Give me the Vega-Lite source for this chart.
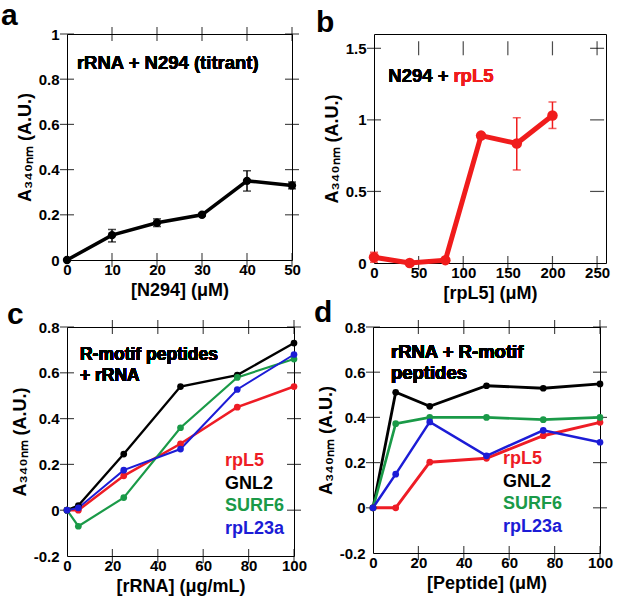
{
  "$schema": "https://vega.github.io/schema/vega-lite/v6.json",
  "padding": {"left": 0, "top": 0, "right": 0, "bottom": 0},
  "background": "white",
  "config": {
    "font": "Liberation Sans",
    "view": {"stroke": "black", "strokeWidth": 1},
    "axis": {
      "grid": false,
      "domain": false,
      "ticks": false,
      "labelFont": "Liberation Sans",
      "labelFontSize": 15,
      "labelFontWeight": "bold",
      "labelColor": "black",
      "labelFlush": false,
      "labelPadding": 2,
      "labelExpr": "replace(format(datum.value, '~g'), '−', '-')",
      "titleFont": "Liberation Sans",
      "titleFontSize": 18,
      "titleFontWeight": "bold",
      "titleColor": "black",
      "titlePadding": 4
    },
    "axisY": {"labelPadding": 8},
    "tick": {"color": "black", "size": 14, "thickness": 1.2, "clip": true},
    "title": {
      "fontSize": 30,
      "fontWeight": "bold",
      "color": "black",
      "anchor": "start",
      "frame": "group",
      "baseline": "alphabetic",
      "offset": -4
    },
    "text": {"font": "Liberation Sans", "fontWeight": "bold", "fontSize": 18.5, "align": "left"}
  },
  "datasets": {
    "n294": [
      {"conc": 0, "a340": 0, "lo": 0, "hi": 0},
      {"conc": 10, "a340": 0.11, "lo": 0.08, "hi": 0.135},
      {"conc": 20, "a340": 0.165, "lo": 0.148, "hi": 0.182},
      {"conc": 30, "a340": 0.2, "lo": 0.194, "hi": 0.206},
      {"conc": 40, "a340": 0.35, "lo": 0.305, "hi": 0.395},
      {"conc": 50, "a340": 0.33, "lo": 0.315, "hi": 0.345}
    ],
    "rpl5": [
      {"conc": 0, "a340": 0.04, "lo": 0.005, "hi": 0.075},
      {"conc": 40, "a340": 0.0, "lo": 0.0, "hi": 0.0},
      {"conc": 80, "a340": 0.02, "lo": 0.02, "hi": 0.02},
      {"conc": 120, "a340": 0.89, "lo": 0.89, "hi": 0.89},
      {"conc": 160, "a340": 0.835, "lo": 0.65, "hi": 1.015},
      {"conc": 200, "a340": 1.03, "lo": 0.94, "hi": 1.125}
    ],
    "rrna": [
      {"series": "rpL5", "x": 0, "y": 0},
      {"series": "rpL5", "x": 5, "y": 0.0},
      {"series": "rpL5", "x": 25, "y": 0.15},
      {"series": "rpL5", "x": 50, "y": 0.29},
      {"series": "rpL5", "x": 75, "y": 0.45},
      {"series": "rpL5", "x": 100, "y": 0.54},
      {"series": "GNL2", "x": 0, "y": 0},
      {"series": "GNL2", "x": 5, "y": 0.02},
      {"series": "GNL2", "x": 25, "y": 0.245},
      {"series": "GNL2", "x": 50, "y": 0.54},
      {"series": "GNL2", "x": 75, "y": 0.59},
      {"series": "GNL2", "x": 100, "y": 0.73},
      {"series": "SURF6", "x": 0, "y": 0},
      {"series": "SURF6", "x": 5, "y": -0.07},
      {"series": "SURF6", "x": 25, "y": 0.055},
      {"series": "SURF6", "x": 50, "y": 0.36},
      {"series": "SURF6", "x": 75, "y": 0.58},
      {"series": "SURF6", "x": 100, "y": 0.66},
      {"series": "rpL23a", "x": 0, "y": 0},
      {"series": "rpL23a", "x": 5, "y": 0.01},
      {"series": "rpL23a", "x": 25, "y": 0.175},
      {"series": "rpL23a", "x": 50, "y": 0.267},
      {"series": "rpL23a", "x": 75, "y": 0.527},
      {"series": "rpL23a", "x": 100, "y": 0.68}
    ],
    "peptide": [
      {"series": "rpL5", "x": 0, "y": 0},
      {"series": "rpL5", "x": 10, "y": 0.0},
      {"series": "rpL5", "x": 25, "y": 0.202},
      {"series": "rpL5", "x": 50, "y": 0.219},
      {"series": "rpL5", "x": 75, "y": 0.319},
      {"series": "rpL5", "x": 100, "y": 0.378},
      {"series": "GNL2", "x": 0, "y": 0},
      {"series": "GNL2", "x": 10, "y": 0.511},
      {"series": "GNL2", "x": 25, "y": 0.449},
      {"series": "GNL2", "x": 50, "y": 0.54},
      {"series": "GNL2", "x": 75, "y": 0.529},
      {"series": "GNL2", "x": 100, "y": 0.548},
      {"series": "SURF6", "x": 0, "y": 0},
      {"series": "SURF6", "x": 10, "y": 0.372},
      {"series": "SURF6", "x": 25, "y": 0.4},
      {"series": "SURF6", "x": 50, "y": 0.4},
      {"series": "SURF6", "x": 75, "y": 0.39},
      {"series": "SURF6", "x": 100, "y": 0.4},
      {"series": "rpL23a", "x": 0, "y": 0},
      {"series": "rpL23a", "x": 10, "y": 0.149},
      {"series": "rpL23a", "x": 25, "y": 0.38},
      {"series": "rpL23a", "x": 50, "y": 0.23},
      {"series": "rpL23a", "x": 75, "y": 0.343},
      {"series": "rpL23a", "x": 100, "y": 0.29}
    ],
    "ticks_x50": [{"v": 10}, {"v": 20}, {"v": 30}, {"v": 40}, {"v": 50}],
    "ticks_y1": [{"v": 0.2}, {"v": 0.4}, {"v": 0.6}, {"v": 0.8}, {"v": 1}],
    "ticks_x250": [{"v": 50}, {"v": 100}, {"v": 150}, {"v": 200}, {"v": 250}],
    "ticks_y15": [{"v": 0.5}, {"v": 1}, {"v": 1.5}],
    "ticks_x100": [{"v": 20}, {"v": 40}, {"v": 60}, {"v": 80}, {"v": 100}],
    "ticks_y08": [{"v": 0}, {"v": 0.2}, {"v": 0.4}, {"v": 0.6}, {"v": 0.8}]
  },
  "resolve": {"scale": {"color": "independent", "strokeWidth": "independent"}, "legend": {"color": "independent"}},
  "spacing": -6,
  "vconcat": [
    {
      "hconcat": [
        {
          "width": 225,
          "height": 226,
          "title": {"text": "a", "dx": -66},
          "data": {"name": "n294"},
          "layer": [
            {
              "data": {"name": "ticks_x50"},
              "mark": {"type": "tick", "orient": "vertical"},
              "encoding": {
                "x": {"field": "v", "type": "quantitative", "scale": {"domain": [0, 50]},
                  "axis": {"values": [0, 10, 20, 30, 40, 50], "title": "[N294] (μM)"}},
                "y": {"datum": 0, "type": "quantitative", "scale": {"domain": [0, 1]},
                  "axis": {"values": [0, 0.2, 0.4, 0.6, 0.8, 1], "title": "A₃₄₀ₙₘ (A.U.)"}}
              }
            },
            {
              "data": {"name": "ticks_x50"},
              "mark": {"type": "tick", "orient": "vertical"},
              "encoding": {
                "x": {"field": "v", "type": "quantitative"},
                "y": {"datum": 1, "type": "quantitative"}
              }
            },
            {
              "data": {"name": "ticks_y1"},
              "mark": {"type": "tick", "orient": "horizontal"},
              "encoding": {
                "y": {"field": "v", "type": "quantitative"},
                "x": {"datum": 0, "type": "quantitative"}
              }
            },
            {
              "data": {"name": "ticks_y1"},
              "mark": {"type": "tick", "orient": "horizontal"},
              "encoding": {
                "y": {"field": "v", "type": "quantitative"},
                "x": {"datum": 50, "type": "quantitative"}
              }
            },
            {
              "mark": {"type": "line", "color": "black", "strokeWidth": 3.5},
              "encoding": {
                "x": {"field": "conc", "type": "quantitative"},
                "y": {"field": "a340", "type": "quantitative"}
              }
            },
            {
              "mark": {"type": "errorbar", "ticks": {"size": 8, "clip": false}, "color": "black", "thickness": 1.5},
              "encoding": {
                "x": {"field": "conc", "type": "quantitative"},
                "y": {"field": "lo", "type": "quantitative", "title": "A₃₄₀ₙₘ (A.U.)"},
                "y2": {"field": "hi"}
              }
            },
            {
              "mark": {"type": "point", "filled": true, "opacity": 1, "color": "black", "size": 70},
              "encoding": {
                "x": {"field": "conc", "type": "quantitative"},
                "y": {"field": "a340", "type": "quantitative"}
              }
            },
            {
              "mark": {"type": "text", "baseline": "middle"},
              "encoding": {
                "text": {"value": "rRNA + N294 (titrant)"},
                "x": {"datum": 2.2, "type": "quantitative"},
                "y": {"datum": 0.87, "type": "quantitative"}
              }
            }
          ]
        },
        {
          "width": 232,
          "height": 229,
          "title": {"text": "b", "dx": -58},
          "data": {"name": "rpl5"},
          "layer": [
            {
              "data": {"name": "ticks_x250"},
              "mark": {"type": "tick", "orient": "vertical"},
              "encoding": {
                "x": {"field": "v", "type": "quantitative", "scale": {"domain": [0, 250]},
                  "axis": {"values": [0, 50, 100, 150, 200, 250], "title": "[rpL5] (μM)"}},
                "y": {"datum": 0, "type": "quantitative", "scale": {"domain": [0, 1.5]},
                  "axis": {"values": [0, 0.5, 1, 1.5], "title": "A₃₄₀ₙₘ (A.U.)"}}
              }
            },
            {
              "data": {"name": "ticks_x250"},
              "mark": {"type": "tick", "orient": "vertical"},
              "encoding": {
                "x": {"field": "v", "type": "quantitative"},
                "y": {"datum": 1.5, "type": "quantitative"}
              }
            },
            {
              "data": {"name": "ticks_y15"},
              "mark": {"type": "tick", "orient": "horizontal"},
              "encoding": {
                "y": {"field": "v", "type": "quantitative"},
                "x": {"datum": 0, "type": "quantitative"}
              }
            },
            {
              "data": {"name": "ticks_y15"},
              "mark": {"type": "tick", "orient": "horizontal"},
              "encoding": {
                "y": {"field": "v", "type": "quantitative"},
                "x": {"datum": 250, "type": "quantitative"}
              }
            },
            {
              "mark": {"type": "line", "color": "#f01c1c", "strokeWidth": 5},
              "encoding": {
                "x": {"field": "conc", "type": "quantitative"},
                "y": {"field": "a340", "type": "quantitative"}
              }
            },
            {
              "mark": {"type": "errorbar", "ticks": {"size": 8, "clip": false}, "color": "#f01c1c", "thickness": 1.5},
              "encoding": {
                "x": {"field": "conc", "type": "quantitative"},
                "y": {"field": "lo", "type": "quantitative", "title": "A₃₄₀ₙₘ (A.U.)"},
                "y2": {"field": "hi"}
              }
            },
            {
              "mark": {"type": "point", "filled": true, "opacity": 1, "color": "#f01c1c", "size": 110},
              "encoding": {
                "x": {"field": "conc", "type": "quantitative"},
                "y": {"field": "a340", "type": "quantitative"}
              }
            },
            {
              "mark": {"type": "text", "baseline": "middle", "color": "black"},
              "encoding": {
                "text": {"value": "N294 +"},
                "x": {"datum": 16, "type": "quantitative"},
                "y": {"datum": 1.31, "type": "quantitative"}
              }
            },
            {
              "mark": {"type": "text", "baseline": "middle", "color": "#f01c1c"},
              "encoding": {
                "text": {"value": "rpL5"},
                "x": {"datum": 89, "type": "quantitative"},
                "y": {"datum": 1.31, "type": "quantitative"}
              }
            }
          ]
        }
      ],
      "spacing": 14
    },
    {
      "hconcat": [
        {
          "width": 227,
          "height": 229,
          "title": {"text": "c", "dx": -60, "offset": -10},
          "data": {"name": "rrna"},
          "layer": [
            {
              "data": {"name": "ticks_x100"},
              "mark": {"type": "tick", "orient": "vertical"},
              "encoding": {
                "x": {"field": "v", "type": "quantitative", "scale": {"domain": [0, 100]},
                  "axis": {"values": [0, 20, 40, 60, 80, 100], "title": "[rRNA] (μg/mL)"}},
                "y": {"datum": -0.2, "type": "quantitative", "scale": {"domain": [-0.2, 0.8]},
                  "axis": {"values": [-0.2, 0, 0.2, 0.4, 0.6, 0.8], "title": "A₃₄₀ₙₘ (A.U.)"}}
              }
            },
            {
              "data": {"name": "ticks_x100"},
              "mark": {"type": "tick", "orient": "vertical"},
              "encoding": {
                "x": {"field": "v", "type": "quantitative"},
                "y": {"datum": 0.8, "type": "quantitative"}
              }
            },
            {
              "data": {"name": "ticks_y08"},
              "mark": {"type": "tick", "orient": "horizontal"},
              "encoding": {
                "y": {"field": "v", "type": "quantitative"},
                "x": {"datum": 0, "type": "quantitative"}
              }
            },
            {
              "data": {"name": "ticks_y08"},
              "mark": {"type": "tick", "orient": "horizontal"},
              "encoding": {
                "y": {"field": "v", "type": "quantitative"},
                "x": {"datum": 100, "type": "quantitative"}
              }
            },
            {
              "mark": {"type": "line"},
              "encoding": {
                "x": {"field": "x", "type": "quantitative"},
                "y": {"field": "y", "type": "quantitative"},
                "color": {"field": "series", "type": "nominal",
                  "scale": {"domain": ["rpL5", "GNL2", "SURF6", "rpL23a"], "range": ["#ee1c25", "black", "#1a9a48", "#1c1cd6"]},
                  "legend": {"orient": "none", "legendX": 140, "legendY": 125, "title": null,
                    "symbolSize": 0, "symbolOpacity": 0, "symbolStrokeWidth": 0, "labelOffset": 0,
                    "labelFontSize": 18, "labelFontWeight": "bold", "rowPadding": 4.5,
                    "encode": {"labels": {"update": {"fill": {"signal": "datum.value == 'rpL5' ? '#ee1c25' : datum.value == 'GNL2' ? 'black' : datum.value == 'SURF6' ? '#1a9a48' : '#1c1cd6'"}}}}}},
                "strokeWidth": {"field": "series", "type": "nominal",
                  "scale": {"domain": ["rpL5", "GNL2", "SURF6", "rpL23a"], "range": [2.5, 2, 3.5, 3.5]}, "legend": null}
              }
            },
            {
              "mark": {"type": "point", "filled": true, "opacity": 1, "size": 45},
              "encoding": {
                "x": {"field": "x", "type": "quantitative"},
                "y": {"field": "y", "type": "quantitative"},
                "color": {"field": "series", "type": "nominal", "legend": null}
              }
            },
            {
              "mark": {"type": "text", "baseline": "top", "lineHeight": 21, "fontSize": 17.5},
              "encoding": {
                "text": {"value": ["R-motif peptides", "+ rRNA"]},
                "x": {"datum": 5.7, "type": "quantitative"},
                "y": {"datum": 0.717, "type": "quantitative"}
              }
            }
          ]
        },
        {
          "width": 227,
          "height": 226,
          "title": {"text": "d", "dx": -59, "offset": -8},
          "data": {"name": "peptide"},
          "layer": [
            {
              "data": {"name": "ticks_x100"},
              "mark": {"type": "tick", "orient": "vertical"},
              "encoding": {
                "x": {"field": "v", "type": "quantitative", "scale": {"domain": [0, 100]},
                  "axis": {"values": [0, 20, 40, 60, 80, 100], "title": "[Peptide] (μM)"}},
                "y": {"datum": -0.2, "type": "quantitative", "scale": {"domain": [-0.2, 0.8]},
                  "axis": {"values": [-0.2, 0, 0.2, 0.4, 0.6, 0.8], "title": "A₃₄₀ₙₘ (A.U.)"}}
              }
            },
            {
              "data": {"name": "ticks_x100"},
              "mark": {"type": "tick", "orient": "vertical"},
              "encoding": {
                "x": {"field": "v", "type": "quantitative"},
                "y": {"datum": 0.8, "type": "quantitative"}
              }
            },
            {
              "data": {"name": "ticks_y08"},
              "mark": {"type": "tick", "orient": "horizontal"},
              "encoding": {
                "y": {"field": "v", "type": "quantitative"},
                "x": {"datum": 0, "type": "quantitative"}
              }
            },
            {
              "data": {"name": "ticks_y08"},
              "mark": {"type": "tick", "orient": "horizontal"},
              "encoding": {
                "y": {"field": "v", "type": "quantitative"},
                "x": {"datum": 100, "type": "quantitative"}
              }
            },
            {
              "mark": {"type": "line"},
              "encoding": {
                "x": {"field": "x", "type": "quantitative"},
                "y": {"field": "y", "type": "quantitative"},
                "color": {"field": "series", "type": "nominal",
                  "scale": {"domain": ["rpL5", "GNL2", "SURF6", "rpL23a"], "range": ["#ee1c25", "black", "#1a9a48", "#1c1cd6"]},
                  "legend": {"orient": "none", "legendX": 112, "legendY": 123, "title": null,
                    "symbolSize": 0, "symbolOpacity": 0, "symbolStrokeWidth": 0, "labelOffset": 0,
                    "labelFontSize": 18, "labelFontWeight": "bold", "rowPadding": 4.5,
                    "encode": {"labels": {"update": {"fill": {"signal": "datum.value == 'rpL5' ? '#ee1c25' : datum.value == 'GNL2' ? 'black' : datum.value == 'SURF6' ? '#1a9a48' : '#1c1cd6'"}}}}}},
                "strokeWidth": {"field": "series", "type": "nominal",
                  "scale": {"domain": ["rpL5", "GNL2", "SURF6", "rpL23a"], "range": [3, 2.5, 3, 3.5]}, "legend": null}
              }
            },
            {
              "mark": {"type": "point", "filled": true, "opacity": 1, "size": 45},
              "encoding": {
                "x": {"field": "x", "type": "quantitative"},
                "y": {"field": "y", "type": "quantitative"},
                "color": {"field": "series", "type": "nominal", "legend": null}
              }
            },
            {
              "mark": {"type": "text", "baseline": "top", "lineHeight": 21},
              "encoding": {
                "text": {"value": ["rRNA + R-motif", "peptides"]},
                "x": {"datum": 7.9, "type": "quantitative"},
                "y": {"datum": 0.729, "type": "quantitative"}
              }
            }
          ]
        }
      ],
      "spacing": 5,
      "resolve": {"scale": {"color": "independent", "strokeWidth": "independent"}, "legend": {"color": "independent"}}
    }
  ]
}
